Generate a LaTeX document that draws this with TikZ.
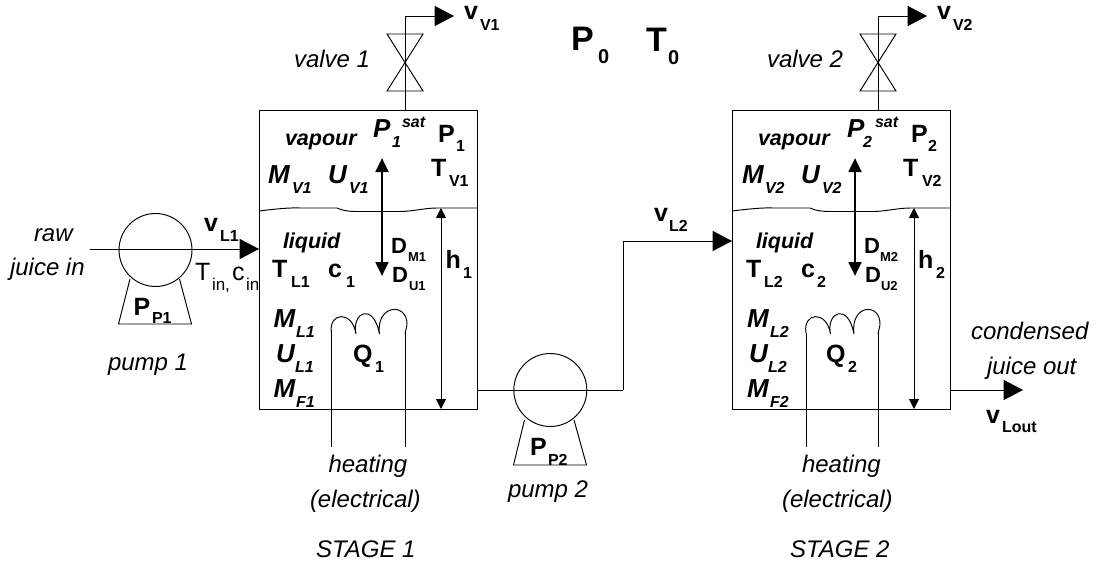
\documentclass[tikz,border=0pt]{standalone}
\usepackage{fontspec}
\setmainfont{Liberation Sans}
\usetikzlibrary{arrows.meta}
\newlength{\pxu}\setlength{\pxu}{0.75pt}
\newcommand{\fs}[1]{\fontsize{#1\pxu}{#1\pxu}\selectfont}
\tikzset{
  every node/.style={inner sep=0pt,outer sep=0pt},
  lab/.style={anchor=base west},
  wire/.style={line width=0.72pt,black},
  flow/.style={wire,-{Triangle[length=14.5pt,width=15pt]}},
  flowsmall/.style={wire,{Triangle[length=7.5pt,width=7.5pt]}-{Triangle[length=7.5pt,width=7.5pt]}},
  exchange/.style={line width=2.1pt,{Triangle[length=10.5pt,width=9.5pt]}-{Triangle[length=10.5pt,width=9.5pt]}},
  tankbox/.style={draw,line width=0.72pt,minimum width=218.5*0.75pt,minimum height=299*0.75pt},
  pumpbody/.style={draw,circle,line width=0.72pt,minimum size=73*0.75pt},
}
% name, x, y, font, main, dx, dy, sub
\newcommand{\sublab}[8]{\node[lab] (#1) at (#2,#3) {#4\makebox[#6\pxu][l]{#5}\raisebox{-#7\pxu}{#8}};}
\newcommand{\plain}[5]{\node[lab] (#1) at (#2,#3) {#4\ignorespaces #5};}
\newcommand{\bm}{\bfseries\fs{25}}
\newcommand{\bi}{\bfseries\itshape\fs{26}}
\newcommand{\sbm}{\bfseries\fs{16}}
\newcommand{\sbi}{\bfseries\itshape\fs{16}}
\newcommand{\dm}{\bfseries\fs{22}}
\newcommand{\dsub}{\bfseries\fs{13}}
\newcommand{\tit}{\itshape\fs{24}}
\newcommand{\bit}{\bfseries\itshape\fs{21.5}}
\newcommand{\valve}[2]{\draw[wire] (#1-18,#2-28) -- (#1+18,#2-28) -- (#1-18,#2+29) -- (#1+18,#2+29) -- cycle;}
\newcommand{\surface}[1]{\begin{scope}[shift={(#1,0)}]
  \draw[wire] (259,211) .. controls (275,209) and (290,207.5) .. (300,208) -- (337,208)
     .. controls (343,211) and (350,211.5) .. (358,211.5) -- (400,211.5)
     .. controls (412,211.5) and (425,208) .. (437,208) -- (477.5,208);
  \end{scope}}
\newcommand{\coil}[2]{\draw[wire] (#1,333) .. controls (#1-3.5,312) and (#1+21,310) .. (#1+24.5,334)
   .. controls (#1+20,312) and (#1+42,302) .. (#1+48,334)
   .. controls (#1+44,304) and (#2+3,302) .. (#2+2,325) -- (#2,334);}
\begin{document}
\begin{tikzpicture}[x=0.75pt,y=-0.75pt]
\path[use as bounding box] (0,0) rectangle (1099,564);
% tanks
\node[tankbox] (tank1) at (368.25,259.5) {};
\node[tankbox] (tank2) at (841.25,259.5) {};
\surface{0}
\surface{473}
% pumps
\node[pumpbody] (pump1) at (155.5,250) {};
\node[pumpbody] (pump2) at (550.3,390) {};
\draw[wire] (130,279) -- (118.5,324) -- (191.5,324) -- (179.5,279);
\draw[wire] (524.5,420) -- (513.5,465) -- (586.5,465) -- (574,420);
% valves
\coordinate (valve1) at (405,62);
\coordinate (valve2) at (878,62);
\valve{405}{62}
\valve{878}{62}
\coordinate (vout1) at (454,16);
\coordinate (vout2) at (927,16);
\draw[flow] (valve1 |- tank1.north) |- (vout1);
\draw[flow] (valve2 |- tank2.north) |- (vout2);
% process lines
\coordinate (rawin) at (90,249);
\draw[flow] (rawin) -- (rawin -| tank1.west);
\coordinate (mid) at (623,390);
\coordinate (inlet2) at (623,241);
\draw[wire] (tank1.east |- mid) -- (mid);
\draw[flow] (mid) |- (tank2.west |- inlet2);
\coordinate (outlet) at (1023,390);
\draw[flow] (tank2.east |- outlet) -- (outlet);
% exchange arrows
\coordinate (ex1t) at (382,158); \coordinate (ex1b) at (382,276);
\coordinate (ex2t) at (855,158); \coordinate (ex2b) at (855,276);
\draw[exchange] (ex1t) -- (ex1b);
\draw[exchange] (ex2t) -- (ex2b);
% level arrows
\coordinate (h1t) at (441,208); \coordinate (h1b) at (441,409);
\coordinate (h2t) at (914,208); \coordinate (h2b) at (914,409);
\draw[flowsmall] (h1t) -- (h1b);
\draw[flowsmall] (h2t) -- (h2b);
% heaters
\coordinate (w1a) at (331.5,333); \coordinate (w1b) at (405,333);
\coordinate (w2a) at (806,333); \coordinate (w2b) at (878,333);
\coil{331.5}{405}
\coil{806}{878}
\draw[wire] (w1a) -- +(0,114);
\draw[wire] (w1b) -- +(0,114);
\draw[wire] (w2a) -- +(0,114);
\draw[wire] (w2b) -- +(0,114);
% ambient
\sublab{pzero}{571}{50}{\bfseries\fs{34}}{P}{27}{13}{\bfseries\fs{20}0}
\sublab{tzero}{646}{51}{\bfseries\fs{34}}{T}{22}{13}{\bfseries\fs{20}0}
% stage 1 labels
\sublab{vv1}{464}{19}{\bm}{v}{16}{11}{\sbm V1}
\plain{valvea}{294}{67}{\tit}{valve 1}
\plain{vapa}{285}{145}{\bit}{vapour}
\sublab{psa}{373}{137}{\bi}{P}{19}{10}{\sbi 1}
\plain{sata}{402}{127}{\sbi}{sat}
\sublab{pa}{438}{142}{\bm}{P}{18}{9}{\sbm 1}
\sublab{tva}{431}{176}{\bm}{T}{18}{10}{\sbm V1}
\sublab{mva}{268}{183}{\bi}{M}{24}{10}{\sbi V1}
\sublab{uva}{328}{183}{\bi}{U}{21}{10}{\sbi V1}
\sublab{vla}{204}{231}{\bm}{v}{16}{10}{\sbm L1}
\plain{liqa}{283}{248}{\bit}{liquid}
\sublab{tla}{272}{277}{\bm}{T}{19}{10}{\sbm L1}
\sublab{ca}{328}{277}{\bm}{c}{18}{10}{\sbm 1}
\sublab{dma}{391}{253}{\dm}{D}{17}{8}{\dsub M1}
\sublab{dua}{392}{282}{\dm}{D}{17}{8}{\dsub U1}
\sublab{ha}{445.5}{268}{\bm}{h}{17.5}{10}{\sbm 1}
\sublab{tin}{195}{280}{\fs{25}}{T}{17}{10}{\fs{17}in,}
\sublab{cin}{232}{280}{\fs{25}}{c}{14}{10}{\fs{17}in}
\plain{rawa}{34}{241}{\tit}{raw}
\plain{juicea}{10}{275}{\tit}{juice in}
\sublab{ppa}{133.5}{315}{\bm}{P}{18.5}{8}{\sbm P1}
\plain{pumpa}{108}{370}{\tit}{pump 1}
\sublab{mla}{273.5}{327}{\bi}{M}{22.5}{10}{\sbi L1}
\sublab{ula}{276}{362}{\bi}{U}{19}{10}{\sbi L1}
\sublab{mfa}{273.5}{397}{\bi}{M}{22.5}{10}{\sbi F1}
\sublab{qa}{353}{362}{\bm}{Q}{22}{10}{\sbm 1}
\plain{heata}{328.5}{472}{\tit}{heating}
\plain{elea}{310}{507}{\tit}{(electrical)}
\plain{stagea}{316}{557}{\tit}{STAGE 1}
% pump 2
\sublab{ppb}{530}{455}{\bm}{P}{18}{10}{\sbm P2}
\plain{pumpb}{508}{497}{\tit}{pump 2}
\sublab{vlb}{654}{221}{\bm}{v}{15}{10}{\sbm L2}
% stage 2 labels
\sublab{vv2}{937}{19}{\bm}{v}{16}{11}{\sbm V2}
\plain{valveb}{767}{67}{\tit}{valve 2}
\plain{vapb}{758}{145}{\bit}{vapour}
\sublab{psb}{847}{137}{\bi}{P}{16}{10}{\sbi 2}
\plain{satb}{875}{127}{\sbi}{sat}
\sublab{pb}{911}{142}{\bm}{P}{17}{9}{\sbm 2}
\sublab{tvb}{903}{176}{\bm}{T}{19}{10}{\sbm V2}
\sublab{mvb}{742}{183}{\bi}{M}{23}{10}{\sbi V2}
\sublab{uvb}{801}{183}{\bi}{U}{21}{10}{\sbi V2}
\plain{liqb}{756}{248}{\bit}{liquid}
\sublab{tlb}{746}{277}{\bm}{T}{18}{10}{\sbm L2}
\sublab{cb}{801}{277}{\bm}{c}{16}{10}{\sbm 2}
\sublab{dmb}{864}{253}{\dm}{D}{16}{8}{\dsub M2}
\sublab{dub}{865}{282}{\dm}{D}{16}{8}{\dsub U2}
\sublab{hb}{918}{268}{\bm}{h}{18}{10}{\sbm 2}
\sublab{mlb}{747}{327}{\bi}{M}{23}{10}{\sbi L2}
\sublab{ulb}{749}{362}{\bi}{U}{19}{10}{\sbi L2}
\sublab{mfb}{747}{397}{\bi}{M}{23}{10}{\sbi F2}
\sublab{qb}{826}{362}{\bm}{Q}{22}{10}{\sbm 2}
\plain{heatb}{802}{472}{\tit}{heating}
\plain{eleb}{782}{507}{\tit}{(electrical)}
\plain{stageb}{790}{557}{\tit}{STAGE 2}
\plain{conb}{971}{339}{\tit}{condensed}
\plain{juiceb}{987}{374}{\tit}{juice out}
\sublab{vout}{986}{423}{\bm}{v}{16}{9}{\sbm Lout}
\end{tikzpicture}
\end{document}
